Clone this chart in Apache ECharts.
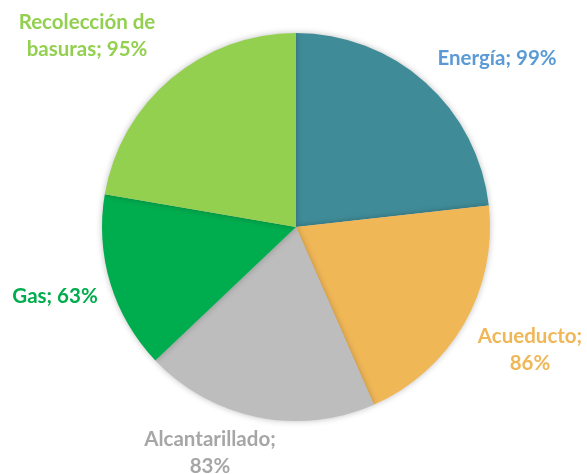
<!DOCTYPE html>
<html>
<head>
<meta charset="utf-8">
<script src="https://cdn.jsdelivr.net/npm/echarts@6/dist/echarts.min.js"></script>
<style>
  html, body { margin: 0; padding: 0; background: #fff; }
  #chart { width: 587px; height: 474px; }
</style>
</head>
<body>
<div id="chart"></div>
<script>
// servicios y cobertura (%)
var categories = ["Energía", "Acueducto", "Alcantarillado", "Gas", "Recolección de basuras"];
var values = [99, 86, 83, 63, 95];
var sliceColors = ["#3F8C98", "#F0B757", "#BDBDBD", "#00AD4E", "#93D050"];
var labelColors = ["#5B9BD5", "#F0B757", "#A6A6A6", "#00AD4E", "#93D050"];
// texto de etiqueta con saltos de línea como en el original
var labelTexts = ["Energía; 99%", "Acueducto;\n86%", "Alcantarillado;\n83%", "Gas; 63%", "Recolección de\nbasuras; 95%"];
// centro de cada etiqueta (px), como en la imagen
var labelSpots = [[497, 58], [530, 350], [210, 453], [55, 296], [87, 36]];

var chart = echarts.init(document.getElementById("chart"));

var data = categories.map(function (name, i) {
  return {
    name: name,
    value: values[i],
    itemStyle: { color: sliceColors[i] },
    label: { color: labelColors[i] }
  };
});

chart.setOption({
  animation: false,
  series: [{
    type: "pie",
    center: [296, 227],
    radius: 194,
    startAngle: 90,
    clockwise: true,
    avoidLabelOverlap: false,
    data: data,
    itemStyle: {
      borderWidth: 0,
      shadowBlur: 6,
      shadowColor: "rgba(0,0,0,0.25)"
    },
    label: {
      show: true,
      position: "outside",
      fontFamily: "Lato",
      fontWeight: "bold",
      fontSize: 20.5,
      lineHeight: 27,
      align: "center",
      formatter: function (p) { return labelTexts[p.dataIndex]; }
    },
    labelLine: { show: false, length: 30, length2: 0 },
    labelLayout: function (p) {
      var s = labelSpots[p.dataIndex];
      return { x: s[0], y: s[1], align: "center", verticalAlign: "middle" };
    }
  }]
});

window.onresize = function () {
  chart.resize();
};
</script>
</body>
</html>
